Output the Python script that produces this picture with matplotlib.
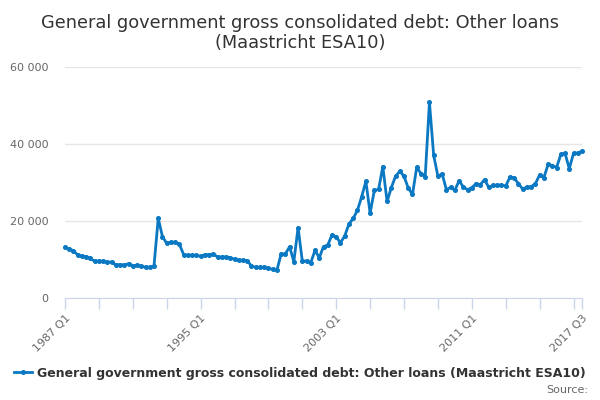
import numpy as np
import matplotlib
matplotlib.use("Agg")
import matplotlib.pyplot as plt
from matplotlib.lines import Line2D

# quarterly series, 1987 Q1 .. 2017 Q3
start_year = 1987
values = [
    13160, 12730, 12300, 11170, 10830, 10740, 10300, 9530, 9610, 9530,
    9270, 9350, 8570, 8660, 8570, 8920, 8400, 8490, 8310, 7970,
    7970, 8310, 20700, 15930, 14200, 14460, 14460, 13940, 11260, 11080,
    11080, 11080, 10830, 11260, 11260, 11430, 10650, 10650, 10650, 10480,
    10050, 9790, 9790, 9700, 8310, 7970, 7970, 7970, 7710, 7450,
    7190, 11430, 11430, 13340, 9440, 18270, 9610, 9610, 9180, 12380,
    10470, 13330, 13760, 16360, 15840, 14370, 16100, 19200, 20650, 22750,
    26300, 30300, 22050, 27950, 28210, 34150, 25070, 28650, 31620, 32930,
    31620, 28560, 26900, 33980, 32320, 31530, 50830, 37030, 31620, 32230,
    28130, 28740, 27950, 30480, 28820, 28130, 28650, 29700, 29440, 30750,
    28740, 29260, 29260, 29350, 29090, 31440, 31180, 29700, 28300, 28820,
    28910, 29700, 31970, 31270, 34680, 34410, 33890, 37290, 37560, 33630,
    37560, 37640, 38170,
]
tick_labels = ["1987 Q1", "1995 Q1", "2003 Q1", "2011 Q1", "2017 Q3"]
y_ticks = [0, 20000, 40000, 60000]
title = "General government gross consolidated debt: Other loans\n(Maastricht ESA10)"
series_name = "General government gross consolidated debt: Other loans (Maastricht ESA10)"

LINE = "#0a78c2"
GRID = "#e6e6e6"
AXIS = "#ccd6eb"


def q_index(label):
    y, q = label.split(" Q")
    return (int(y) - start_year) * 4 + int(q) - 1


x = np.arange(len(values))
last = len(values) - 1

fig = plt.figure(figsize=(6, 4), dpi=100)
ax = fig.add_axes([65 / 600, 1 - 298 / 400, 517 / 600, 231 / 400])

ax.plot(x, values, color=LINE, lw=2, marker="o", ms=2.6, zorder=3, clip_on=False)

ax.set_xlim(0, last)
ax.set_ylim(0, 60000)

ax.set_yticks(y_ticks)
ax.set_yticklabels([f"{v:,}".replace(",", " ") for v in y_ticks])
ax.grid(axis="y", color=GRID, lw=1)
ax.set_axisbelow(True)

minor = [i for i in range(0, last, 8)] + [last]
ax.set_xticks(minor, minor=True)
ax.set_xticks([q_index(t) for t in tick_labels])
ax.set_xticklabels(tick_labels, rotation=45, ha="right", rotation_mode="anchor")

ax.tick_params(axis="x", which="both", length=8, color=AXIS, width=1,
               labelsize=8, labelcolor="#666666", pad=3)
ax.tick_params(axis="y", length=0, labelsize=8, labelcolor="#666666", pad=12)

for s in ["top", "right", "left"]:
    ax.spines[s].set_visible(False)
ax.spines["bottom"].set_color(AXIS)

fig.text(0.5, 1 - 33 / 400, title, ha="center", va="center", fontsize=12.8,
         color="#333333", linespacing=1.2)

handle = Line2D([], [], color=LINE, lw=2, marker="o", ms=2.6)
fig.legend([handle], [series_name], loc="center",
           bbox_to_anchor=(0.5, 1 - 373 / 400), frameon=False,
           handlelength=1.4, handletextpad=0.4,
           prop={"size": 9, "weight": "bold"}, labelcolor="#333333")

fig.text(588 / 600, 1 - 390 / 400, "Source:", ha="right", va="center",
         fontsize=8, color="#666666")

fig.savefig("out.png", dpi=100)
